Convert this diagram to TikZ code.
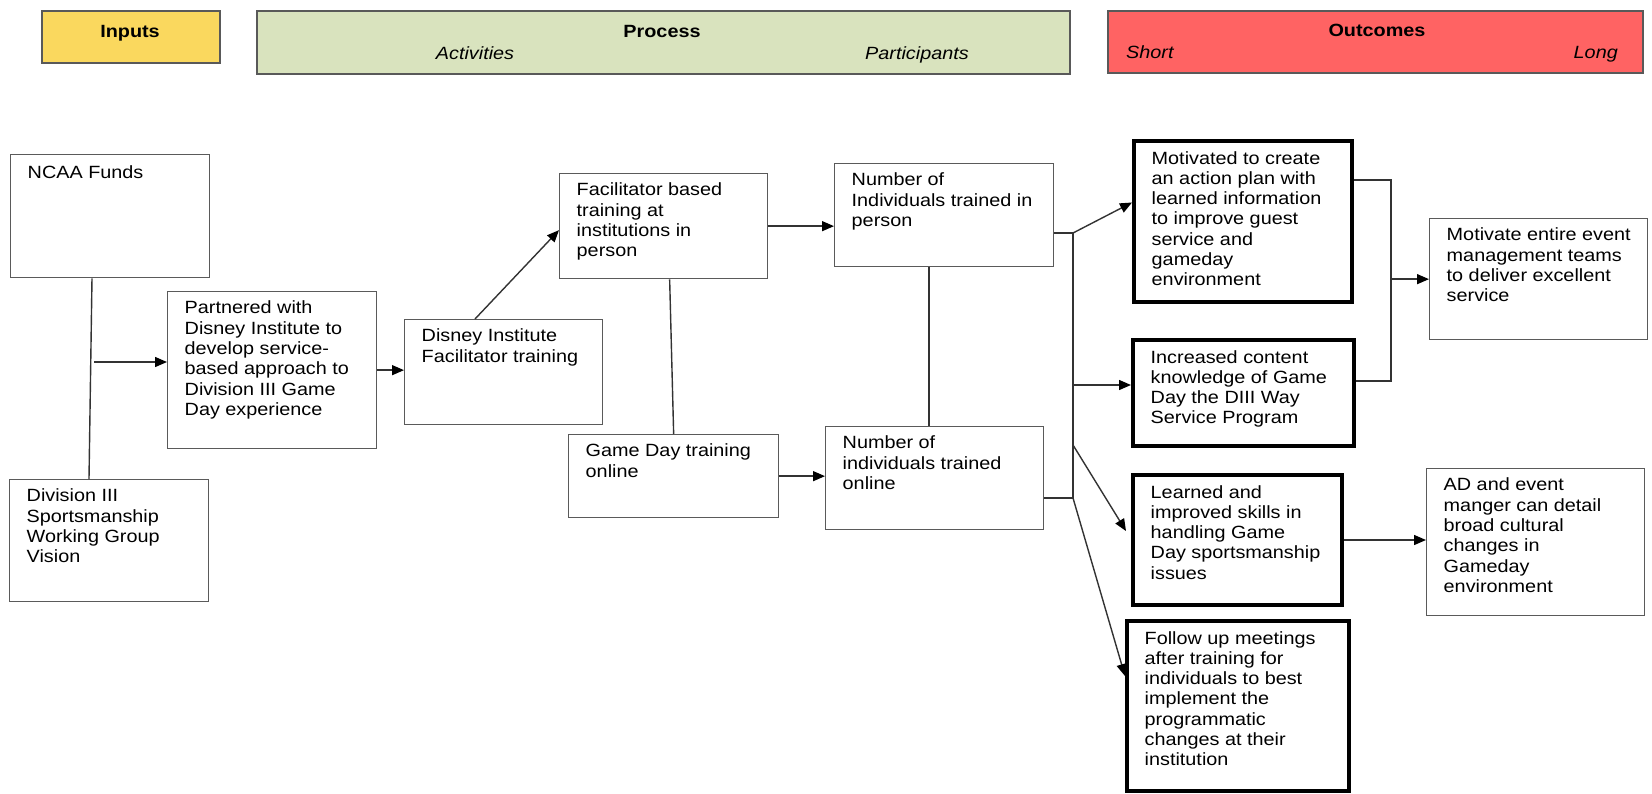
\documentclass[tikz,border=0pt]{standalone}
\usepackage{fontspec}
\setmainfont[FakeStretch=1.12]{Liberation Sans}
\usetikzlibrary{arrows.meta}

\definecolor{inputyellow}{HTML}{FAD85E}
\definecolor{processgreen}{HTML}{D9E3BE}
\definecolor{outcomered}{HTML}{FF6363}
\definecolor{edgegray}{HTML}{5A5A5A}

\begin{document}
\begin{tikzpicture}[x=1pt, y=-1pt,
    box/.style={draw=edgegray, line width=1.3pt, anchor=north west, inner sep=0pt},
    thickbox/.style={box, draw=black, line width=4pt},
    hdr/.style={box, draw=black!65, line width=1.5pt},
    hfont/.style={font=\fontsize{17.7}{20.3}\selectfont, inner sep=0pt},
    txt/.style={hfont, anchor=north west, align=left, inner xsep=17.5pt, inner ysep=9.8pt,
      execute at begin node=\strut},
    thicktxt/.style={txt, inner xsep=19.5pt, inner ysep=12pt},
    link/.style={draw=black!80, line width=1.4pt},
    arr/.style={link, -{Triangle[length=12pt, width=10pt, color=black]}}
  ]
  \useasboundingbox (0,0) rectangle (1652,793);

  % Header bars
  \node[hdr, fill=inputyellow, minimum width=178pt, minimum height=52pt] (inputs) at (41,10) {};
  \node[hdr, fill=processgreen, minimum width=813pt, minimum height=63pt] (process) at (256,10) {};
  \node[hdr, fill=outcomered, minimum width=535pt, minimum height=62pt] (outcomes) at (1107,10) {};

  \node[hfont, anchor=base] (inputs-t) at (130,37) {\bfseries Inputs};
  \node[hfont, anchor=base] (process-t) at (662,37) {\bfseries Process};
  \node[hfont, anchor=base] (activities-t) at (475,59) {\itshape Activities};
  \node[hfont, anchor=base] (participants-t) at (917,59) {\itshape Participants};
  \node[hfont, anchor=base] (outcomes-t) at (1377,36) {\bfseries Outcomes};
  \node[hfont, anchor=base west] (short-t) at (1126,58) {\itshape Short};
  \node[hfont, anchor=base east] (long-t) at (1618,58) {\itshape Long};

  % Inputs
  \node[box, minimum width=199pt, minimum height=123pt] (ncaa) at (10,154) {};
  \node[txt] (ncaa-t) at (ncaa.north west) {NCAA Funds};
  \node[box, minimum width=199pt, minimum height=122pt] (div) at (9,479) {};
  \node[txt] (div-t) at (div.north west) {Division III\\Sportsmanship\\Working Group\\Vision};

  % Activities
  \node[box, minimum width=209pt, minimum height=157pt] (part) at (167,291) {};
  \node[txt] (part-t) at (part.north west) {Partnered with\\Disney Institute to\\develop service-\\based approach to\\Division III Game\\Day experience};
  \node[box, minimum width=198pt, minimum height=105pt] (disney) at (404,319) {};
  \node[txt] (disney-t) at (disney.north west) {Disney Institute\\Facilitator training};
  \node[box, minimum width=208pt, minimum height=105pt] (facil) at (559,173) {};
  \node[txt] (facil-t) at (facil.north west) {Facilitator based\\training at\\institutions in\\person};
  \node[box, minimum width=210pt, minimum height=83pt] (game) at (568,434) {};
  \node[txt] (game-t) at (game.north west) {Game Day training\\online};

  % Participants
  \node[box, minimum width=219pt, minimum height=103pt] (inp) at (834,163) {};
  \node[txt] (inp-t) at (inp.north west) {Number of\\Individuals trained in\\person};
  \node[box, minimum width=218pt, minimum height=103pt] (online) at (825,426) {};
  \node[txt] (online-t) at (online.north west) {Number of\\individuals trained\\online};

  % Short outcomes
  \node[thickbox, minimum width=218pt, minimum height=161pt] (mot) at (1132,139) {};
  \node[thicktxt] (mot-t) at (mot.north west) {Motivated to create\\an action plan with\\learned information\\to improve guest\\service and\\gameday\\environment};
  \node[thickbox, minimum width=221pt, minimum height=106pt] (incr) at (1131,338) {};
  \node[thicktxt] (incr-t) at (incr.north west) {Increased content\\knowledge of Game\\Day the DIII Way\\Service Program};
  \node[thickbox, minimum width=209pt, minimum height=130pt] (learn) at (1131,473) {};
  \node[thicktxt] (learn-t) at (learn.north west) {Learned and\\improved skills in\\handling Game\\Day sportsmanship\\issues};
  \node[thickbox, minimum width=222pt, minimum height=170pt] (follow) at (1125,619) {};
  \node[thicktxt] (follow-t) at (follow.north west) {Follow up meetings\\after training for\\individuals to best\\implement the\\programmatic\\changes at their\\institution};

  % Long outcomes
  \node[box, minimum width=218pt, minimum height=121pt] (motent) at (1429,218) {};
  \node[txt] (motent-t) at (motent.north west) {Motivate entire event\\management teams\\to deliver excellent\\service};
  \node[box, minimum width=218pt, minimum height=147pt] (ad) at (1426,468) {};
  \node[txt] (ad-t) at (ad.north west) {AD and event\\manger can detail\\broad cultural\\changes in\\Gameday\\environment};

  % Inputs to activities
  \draw[link] ([xshift=82pt]ncaa.south west) -- ([xshift=80pt]div.north west);
  \coordinate (inj) at (94,362);
  \draw[arr] (inj) -- (inj -| part.west);
  \draw[arr] (part.east) -- (part.east -| disney.west);
  \draw[arr] ([xshift=71pt]disney.north west) -- ([yshift=-4pt]facil.west);
  \draw[arr] (facil.east) -- (facil.east -| inp.west);
  \draw[link] ([xshift=6pt]facil.south) -- (game.north);
  \draw[arr] (game.east) -- (game.east -| online.west);
  \draw[link] ([xshift=95pt]inp.south west) -- ([xshift=104pt]online.north west);

  % Bracket to short outcomes
  \coordinate (brtop) at (1073,233);
  \coordinate (brmid) at (1073,385);
  \coordinate (brlow) at (1073,445);
  \coordinate (brbot) at (1073,498);
  \draw[link] (brtop -| inp.east) -- (brtop) -- (brbot) -- (brbot -| online.east);
  \draw[arr] (brtop) -- ([yshift=19pt]mot.west);
  \draw[arr] (brmid) -- (brmid -| incr.west);
  \draw[arr] (brlow) -- ([xshift=-5pt, yshift=9pt]learn.west);
  \draw[arr] (brbot) -- ([yshift=30pt]follow.west);

  % Bracket to long outcomes
  \coordinate (rbtop) at (1391,180);
  \coordinate (rbbot) at (1391,381);
  \draw[link] (rbtop -| mot.east) -- (rbtop) -- (rbbot) -- (rbbot -| incr.east);
  \draw[arr] (rbtop |- motent.west) -- (motent.west);
  \draw[arr] (learn.east) -- (learn.east -| ad.west);
\end{tikzpicture}
\end{document}
